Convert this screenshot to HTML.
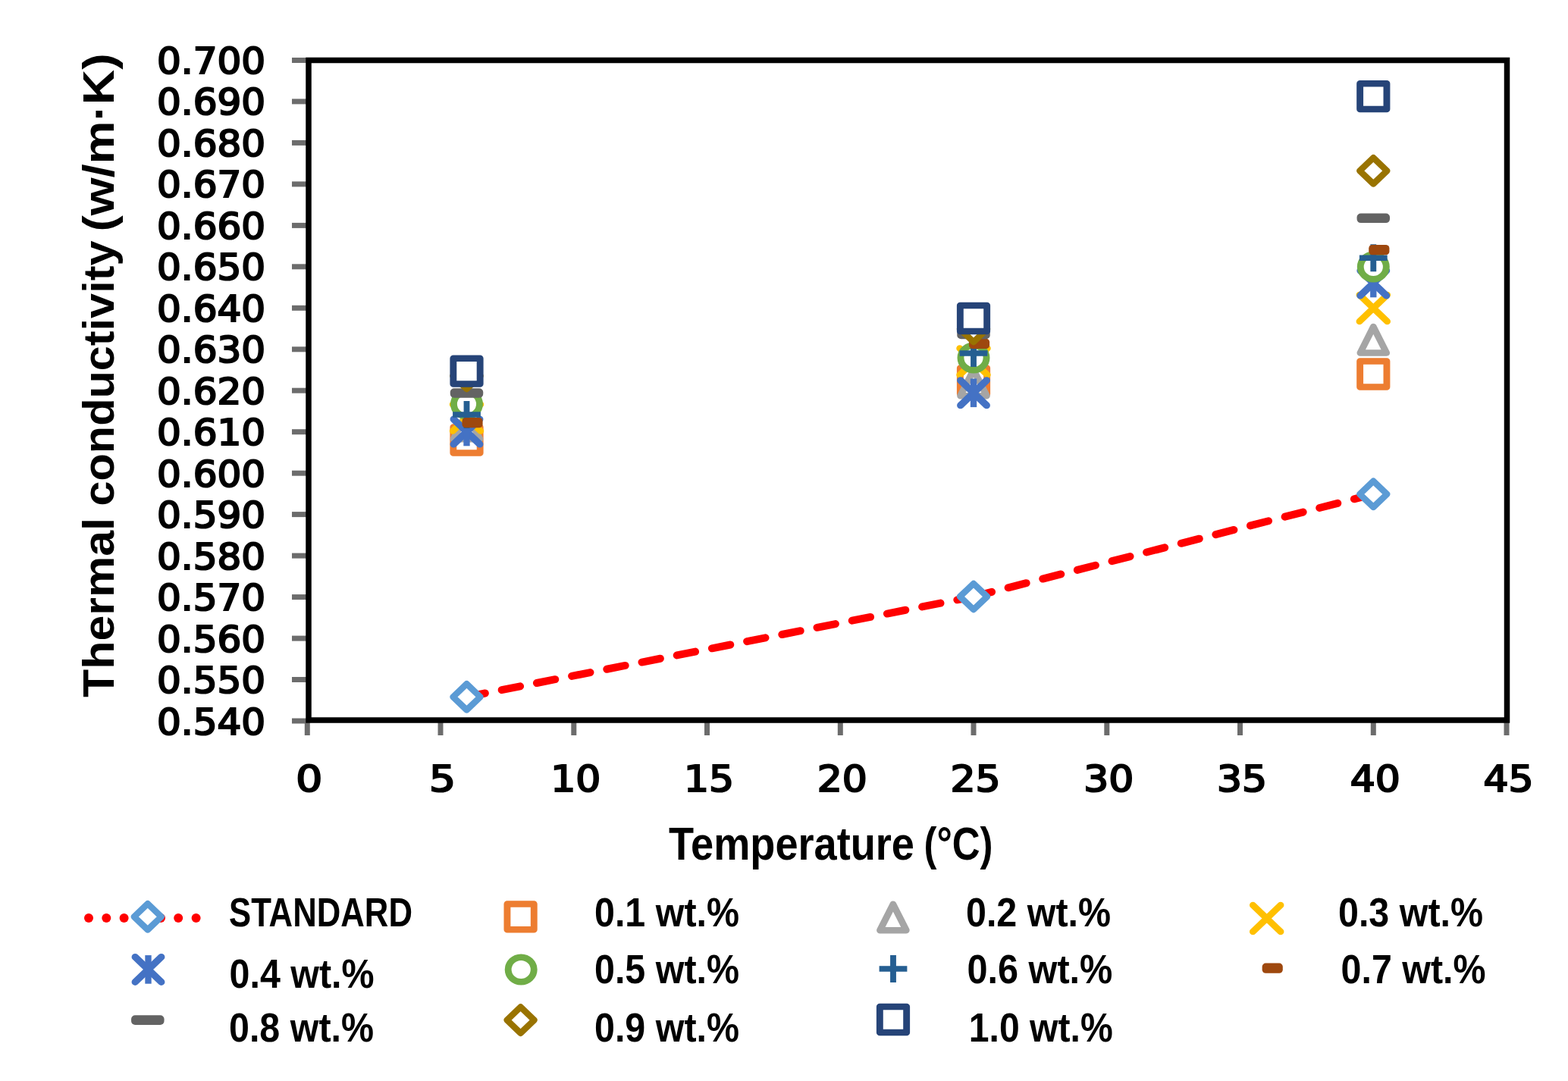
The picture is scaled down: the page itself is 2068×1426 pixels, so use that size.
<!DOCTYPE html><html><head><meta charset="utf-8"><title>Thermal conductivity vs temperature</title><style>html,body{margin:0;padding:0;background:#fff;overflow:hidden;}svg{display:block;}text{font-family:'Liberation Sans', 'DejaVu Sans', sans-serif;font-weight:bold;fill:#000;}text.t{font-family:'DejaVu Sans',sans-serif;font-weight:normal;stroke:#000;stroke-width:2.2px;}</style></head><body>
<svg width="2068" height="1426" viewBox="0 0 2068 1426">
<rect width="2068" height="1426" fill="#fff"/>
<g stroke="#6c6c6c" stroke-width="7">
<line x1="385" y1="951.0" x2="407" y2="951.0"/>
<line x1="385" y1="896.5" x2="407" y2="896.5"/>
<line x1="385" y1="842.1" x2="407" y2="842.1"/>
<line x1="385" y1="787.6" x2="407" y2="787.6"/>
<line x1="385" y1="733.1" x2="407" y2="733.1"/>
<line x1="385" y1="678.6" x2="407" y2="678.6"/>
<line x1="385" y1="624.2" x2="407" y2="624.2"/>
<line x1="385" y1="569.7" x2="407" y2="569.7"/>
<line x1="385" y1="515.2" x2="407" y2="515.2"/>
<line x1="385" y1="460.8" x2="407" y2="460.8"/>
<line x1="385" y1="406.3" x2="407" y2="406.3"/>
<line x1="385" y1="351.8" x2="407" y2="351.8"/>
<line x1="385" y1="297.4" x2="407" y2="297.4"/>
<line x1="385" y1="242.9" x2="407" y2="242.9"/>
<line x1="385" y1="188.4" x2="407" y2="188.4"/>
<line x1="385" y1="133.9" x2="407" y2="133.9"/>
<line x1="385" y1="79.5" x2="407" y2="79.5"/>
<line x1="405.3" y1="950" x2="405.3" y2="970"/>
<line x1="581.0" y1="950" x2="581.0" y2="970"/>
<line x1="756.8" y1="950" x2="756.8" y2="970"/>
<line x1="932.5" y1="950" x2="932.5" y2="970"/>
<line x1="1108.3" y1="950" x2="1108.3" y2="970"/>
<line x1="1284.0" y1="950" x2="1284.0" y2="970"/>
<line x1="1459.8" y1="950" x2="1459.8" y2="970"/>
<line x1="1635.5" y1="950" x2="1635.5" y2="970"/>
<line x1="1811.3" y1="950" x2="1811.3" y2="970"/>
<line x1="1987.0" y1="950" x2="1987.0" y2="970"/>
</g>
<rect x="407" y="79.5" width="1580.5" height="870.5" fill="none" stroke="#000" stroke-width="7.5" stroke-linejoin="miter"/>
<text class="t" x="350" y="968.5" font-size="48" text-anchor="end" textLength="143" lengthAdjust="spacingAndGlyphs">0.540</text>
<text class="t" x="350" y="914.0" font-size="48" text-anchor="end" textLength="143" lengthAdjust="spacingAndGlyphs">0.550</text>
<text class="t" x="350" y="859.6" font-size="48" text-anchor="end" textLength="143" lengthAdjust="spacingAndGlyphs">0.560</text>
<text class="t" x="350" y="805.1" font-size="48" text-anchor="end" textLength="143" lengthAdjust="spacingAndGlyphs">0.570</text>
<text class="t" x="350" y="750.6" font-size="48" text-anchor="end" textLength="143" lengthAdjust="spacingAndGlyphs">0.580</text>
<text class="t" x="350" y="696.1" font-size="48" text-anchor="end" textLength="143" lengthAdjust="spacingAndGlyphs">0.590</text>
<text class="t" x="350" y="641.7" font-size="48" text-anchor="end" textLength="143" lengthAdjust="spacingAndGlyphs">0.600</text>
<text class="t" x="350" y="587.2" font-size="48" text-anchor="end" textLength="143" lengthAdjust="spacingAndGlyphs">0.610</text>
<text class="t" x="350" y="532.7" font-size="48" text-anchor="end" textLength="143" lengthAdjust="spacingAndGlyphs">0.620</text>
<text class="t" x="350" y="478.3" font-size="48" text-anchor="end" textLength="143" lengthAdjust="spacingAndGlyphs">0.630</text>
<text class="t" x="350" y="423.8" font-size="48" text-anchor="end" textLength="143" lengthAdjust="spacingAndGlyphs">0.640</text>
<text class="t" x="350" y="369.3" font-size="48" text-anchor="end" textLength="143" lengthAdjust="spacingAndGlyphs">0.650</text>
<text class="t" x="350" y="314.9" font-size="48" text-anchor="end" textLength="143" lengthAdjust="spacingAndGlyphs">0.660</text>
<text class="t" x="350" y="260.4" font-size="48" text-anchor="end" textLength="143" lengthAdjust="spacingAndGlyphs">0.670</text>
<text class="t" x="350" y="205.9" font-size="48" text-anchor="end" textLength="143" lengthAdjust="spacingAndGlyphs">0.680</text>
<text class="t" x="350" y="151.4" font-size="48" text-anchor="end" textLength="143" lengthAdjust="spacingAndGlyphs">0.690</text>
<text class="t" x="350" y="97.0" font-size="48" text-anchor="end" textLength="143" lengthAdjust="spacingAndGlyphs">0.700</text>
<text class="t" x="407.8" y="1043.9" font-size="48" text-anchor="middle" textLength="35" lengthAdjust="spacingAndGlyphs">0</text>
<text class="t" x="583.5" y="1043.9" font-size="48" text-anchor="middle" textLength="35" lengthAdjust="spacingAndGlyphs">5</text>
<text class="t" x="759.3" y="1043.9" font-size="48" text-anchor="middle" textLength="66" lengthAdjust="spacingAndGlyphs">10</text>
<text class="t" x="935.0" y="1043.9" font-size="48" text-anchor="middle" textLength="66" lengthAdjust="spacingAndGlyphs">15</text>
<text class="t" x="1110.8" y="1043.9" font-size="48" text-anchor="middle" textLength="66" lengthAdjust="spacingAndGlyphs">20</text>
<text class="t" x="1286.5" y="1043.9" font-size="48" text-anchor="middle" textLength="66" lengthAdjust="spacingAndGlyphs">25</text>
<text class="t" x="1462.3" y="1043.9" font-size="48" text-anchor="middle" textLength="66" lengthAdjust="spacingAndGlyphs">30</text>
<text class="t" x="1638.0" y="1043.9" font-size="48" text-anchor="middle" textLength="66" lengthAdjust="spacingAndGlyphs">35</text>
<text class="t" x="1813.8" y="1043.9" font-size="48" text-anchor="middle" textLength="66" lengthAdjust="spacingAndGlyphs">40</text>
<text class="t" x="1989.5" y="1043.9" font-size="48" text-anchor="middle" textLength="66" lengthAdjust="spacingAndGlyphs">45</text>
<text x="882" y="1134.4" font-size="61" textLength="324" lengthAdjust="spacingAndGlyphs">Temperature</text>
<text x="1218.5" y="1134.4" font-size="61" textLength="91" lengthAdjust="spacingAndGlyphs">(°C)</text>
<text transform="translate(150,920) rotate(-90)" x="0" y="0" font-size="58" textLength="237" lengthAdjust="spacingAndGlyphs">Thermal</text>
<text transform="translate(150,667.5) rotate(-90)" x="0" y="0" font-size="58" textLength="350" lengthAdjust="spacingAndGlyphs">conductivity</text>
<text transform="translate(150,305.5) rotate(-90)" x="0" y="0" font-size="58" textLength="235" lengthAdjust="spacingAndGlyphs">(w/m·K)</text>
<line x1="615.5" y1="919.3" x2="1284.0" y2="787.0" stroke="#FF0000" stroke-width="10" stroke-dasharray="24.8 22.3" stroke-linecap="round"/>
<line x1="1284.0" y1="787.0" x2="1811.3" y2="651.8" stroke="#FF0000" stroke-width="10" stroke-dasharray="24.8 22.3" stroke-linecap="round"/>
<g transform="translate(615.5,919.3) scale(1.045,1)"><path d="M0 -17.2L17.2 0L0 17.2L-17.2 0Z" fill="#fff" stroke="#5B9BD5" stroke-width="8.2" stroke-linejoin="round"/></g>
<g transform="translate(1284.0,787.0) scale(1.045,1)"><path d="M0 -17.2L17.2 0L0 17.2L-17.2 0Z" fill="#fff" stroke="#5B9BD5" stroke-width="8.2" stroke-linejoin="round"/></g>
<g transform="translate(1811.3,651.8) scale(1.045,1)"><path d="M0 -17.2L17.2 0L0 17.2L-17.2 0Z" fill="#fff" stroke="#5B9BD5" stroke-width="8.2" stroke-linejoin="round"/></g>
<g transform="translate(615.5,580.5) scale(1.045,1)"><rect x="-16.9" y="-16.9" width="33.8" height="33.8" fill="#fff" stroke="#ED7D31" stroke-width="8.5" stroke-linejoin="round"/></g>
<g transform="translate(1284.0,502.5) scale(1.045,1)"><rect x="-16.9" y="-16.9" width="33.8" height="33.8" fill="#fff" stroke="#ED7D31" stroke-width="8.5" stroke-linejoin="round"/></g>
<g transform="translate(1811.3,493.5) scale(1.045,1)"><rect x="-16.9" y="-16.9" width="33.8" height="33.8" fill="#fff" stroke="#ED7D31" stroke-width="8.5" stroke-linejoin="round"/></g>
<g transform="translate(615.5,562.0) scale(1.045,1)"><path d="M0 -17.2L16.6 17.2L-16.6 17.2Z" fill="#fff" stroke="#A5A5A5" stroke-width="8.5" stroke-linejoin="round"/></g>
<g transform="translate(1284.0,505.0) scale(1.045,1)"><path d="M0 -17.2L16.6 17.2L-16.6 17.2Z" fill="#fff" stroke="#A5A5A5" stroke-width="8.5" stroke-linejoin="round"/></g>
<g transform="translate(1811.3,448.3) scale(1.045,1)"><path d="M0 -17.2L16.6 17.2L-16.6 17.2Z" fill="#fff" stroke="#A5A5A5" stroke-width="8.5" stroke-linejoin="round"/></g>
<g transform="translate(615.5,551.0) scale(1.045,1)"><path d="M-17.5 -17.5L17.5 17.5M17.5 -17.5L-17.5 17.5" stroke="#FFC000" stroke-width="8.5" stroke-linecap="round"/></g>
<g transform="translate(1284.0,477.0) scale(1.045,1)"><path d="M-17.5 -17.5L17.5 17.5M17.5 -17.5L-17.5 17.5" stroke="#FFC000" stroke-width="8.5" stroke-linecap="round"/></g>
<g transform="translate(1811.3,406.5) scale(1.045,1)"><path d="M-17.5 -17.5L17.5 17.5M17.5 -17.5L-17.5 17.5" stroke="#FFC000" stroke-width="8.5" stroke-linecap="round"/></g>
<g transform="translate(615.5,569.5) scale(1.045,1)"><path d="M-16.5 -16.5L16.5 16.5M16.5 -16.5L-16.5 16.5" stroke="#4472C4" stroke-width="9" stroke-linecap="round"/><path d="M0 -18.8L0 18.8" stroke="#4472C4" stroke-width="8"/></g>
<g transform="translate(1284.0,518.3) scale(1.045,1)"><path d="M-16.5 -16.5L16.5 16.5M16.5 -16.5L-16.5 16.5" stroke="#4472C4" stroke-width="9" stroke-linecap="round"/><path d="M0 -18.8L0 18.8" stroke="#4472C4" stroke-width="8"/></g>
<g transform="translate(1811.3,373.5) scale(1.045,1)"><path d="M-16.5 -16.5L16.5 16.5M16.5 -16.5L-16.5 16.5" stroke="#4472C4" stroke-width="9" stroke-linecap="round"/><path d="M0 -18.8L0 18.8" stroke="#4472C4" stroke-width="8"/></g>
<g transform="translate(615.5,533.0) scale(1.045,1)"><circle r="16.3" fill="#fff" stroke="#70AD47" stroke-width="8.5"/></g>
<g transform="translate(1284.0,472.0) scale(1.045,1)"><circle r="16.3" fill="#fff" stroke="#70AD47" stroke-width="8.5"/></g>
<g transform="translate(1811.3,352.0) scale(1.045,1)"><circle r="16.3" fill="#fff" stroke="#70AD47" stroke-width="8.5"/></g>
<g transform="translate(615.5,547.0) scale(1.045,1)"><path d="M-17.6 0L17.6 0M0 -18L0 18" stroke="#255E91" stroke-width="7.5"/></g>
<g transform="translate(1284.0,466.0) scale(1.045,1)"><path d="M-17.6 0L17.6 0M0 -18L0 18" stroke="#255E91" stroke-width="7.5"/></g>
<g transform="translate(1811.3,340.3) scale(1.045,1)"><path d="M-17.6 0L17.6 0M0 -18L0 18" stroke="#255E91" stroke-width="7.5"/></g>
<g transform="translate(615.5,557.6) scale(1.045,1)"><rect x="-5.8" y="-6.6" width="26" height="13.2" rx="4.5" fill="#9E480E"/></g>
<g transform="translate(1284.0,453.4) scale(1.045,1)"><rect x="-5.8" y="-6.6" width="26" height="13.2" rx="4.5" fill="#9E480E"/></g>
<g transform="translate(1811.3,329.6) scale(1.045,1)"><rect x="-5.8" y="-6.6" width="26" height="13.2" rx="4.5" fill="#9E480E"/></g>
<g transform="translate(615.5,518.5) scale(1.045,1)"><rect x="-20.8" y="-6.3" width="41.6" height="12.6" rx="5" fill="#636363"/></g>
<g transform="translate(1284.0,441.0) scale(1.045,1)"><rect x="-20.8" y="-6.3" width="41.6" height="12.6" rx="5" fill="#636363"/></g>
<g transform="translate(1811.3,287.8) scale(1.045,1)"><rect x="-20.8" y="-6.3" width="41.6" height="12.6" rx="5" fill="#636363"/></g>
<g transform="translate(615.5,496.0) scale(1.045,1)"><path d="M0 -17.2L17.2 0L0 17.2L-17.2 0Z" fill="#fff" stroke="#997300" stroke-width="8.2" stroke-linejoin="round"/></g>
<g transform="translate(1284.0,434.0) scale(1.045,1)"><path d="M0 -17.2L17.2 0L0 17.2L-17.2 0Z" fill="#fff" stroke="#997300" stroke-width="8.2" stroke-linejoin="round"/></g>
<g transform="translate(1811.3,225.3) scale(1.045,1)"><path d="M0 -17.2L17.2 0L0 17.2L-17.2 0Z" fill="#fff" stroke="#997300" stroke-width="8.2" stroke-linejoin="round"/></g>
<g transform="translate(615.5,489.6) scale(1.045,1)"><rect x="-16.9" y="-16.9" width="33.8" height="33.8" fill="#fff" stroke="#264478" stroke-width="8.5" stroke-linejoin="round"/></g>
<g transform="translate(1284.0,420.0) scale(1.045,1)"><rect x="-16.9" y="-16.9" width="33.8" height="33.8" fill="#fff" stroke="#264478" stroke-width="8.5" stroke-linejoin="round"/></g>
<g transform="translate(1811.3,127.2) scale(1.045,1)"><rect x="-16.9" y="-16.9" width="33.8" height="33.8" fill="#fff" stroke="#264478" stroke-width="8.5" stroke-linejoin="round"/></g>
<circle cx="117" cy="1211" r="6" fill="#FF0000"/>
<circle cx="140.3" cy="1211" r="6" fill="#FF0000"/>
<circle cx="163.6" cy="1211" r="6" fill="#FF0000"/>
<circle cx="186.9" cy="1211" r="6" fill="#FF0000"/>
<circle cx="212" cy="1211" r="6" fill="#FF0000"/>
<circle cx="235.2" cy="1211" r="6" fill="#FF0000"/>
<circle cx="258.6" cy="1211" r="6" fill="#FF0000"/>
<g transform="translate(194.8,1209.3) scale(1.045,1)"><path d="M0 -17.2L17.2 0L0 17.2L-17.2 0Z" fill="#fff" stroke="#5B9BD5" stroke-width="8.2" stroke-linejoin="round"/></g>
<text x="302" y="1221.8" font-size="53" textLength="242" lengthAdjust="spacingAndGlyphs">STANDARD</text>
<g transform="translate(686.6,1209.4) scale(1.045,1)"><rect x="-16.9" y="-16.9" width="33.8" height="33.8" fill="#fff" stroke="#ED7D31" stroke-width="8.5" stroke-linejoin="round"/></g>
<text x="784" y="1221.8" font-size="53" textLength="191" lengthAdjust="spacingAndGlyphs">0.1 wt.%</text>
<g transform="translate(1177.9,1210.0) scale(1.045,1)"><path d="M0 -17.2L16.6 17.2L-16.6 17.2Z" fill="#fff" stroke="#A5A5A5" stroke-width="8.5" stroke-linejoin="round"/></g>
<text x="1274" y="1221.8" font-size="53" textLength="191" lengthAdjust="spacingAndGlyphs">0.2 wt.%</text>
<g transform="translate(1670.7,1211.5) scale(1.045,1)"><path d="M-17.5 -17.5L17.5 17.5M17.5 -17.5L-17.5 17.5" stroke="#FFC000" stroke-width="8.5" stroke-linecap="round"/></g>
<text x="1765" y="1222.4" font-size="53" textLength="191" lengthAdjust="spacingAndGlyphs">0.3 wt.%</text>
<g transform="translate(195.5,1278.9) scale(1.045,1)"><path d="M-16.5 -16.5L16.5 16.5M16.5 -16.5L-16.5 16.5" stroke="#4472C4" stroke-width="9" stroke-linecap="round"/><path d="M0 -18.8L0 18.8" stroke="#4472C4" stroke-width="8"/></g>
<text x="302.6" y="1303.2" font-size="53" textLength="191" lengthAdjust="spacingAndGlyphs">0.4 wt.%</text>
<g transform="translate(687.2,1279.0) scale(1.045,1)"><circle r="16.3" fill="#fff" stroke="#70AD47" stroke-width="8.5"/></g>
<text x="784" y="1296.8" font-size="53" textLength="191" lengthAdjust="spacingAndGlyphs">0.5 wt.%</text>
<g transform="translate(1178.0,1278.0) scale(1.045,1)"><path d="M-17.6 0L17.6 0M0 -18L0 18" stroke="#255E91" stroke-width="7.5"/></g>
<text x="1275.4" y="1297" font-size="53" textLength="192" lengthAdjust="spacingAndGlyphs">0.6 wt.%</text>
<g transform="translate(1670.7,1277.2) scale(1.045,1)"><rect x="-5.8" y="-6.6" width="26" height="13.2" rx="4.5" fill="#9E480E"/></g>
<text x="1768.6" y="1297.2" font-size="53" textLength="191" lengthAdjust="spacingAndGlyphs">0.7 wt.%</text>
<g transform="translate(194.8,1345.6) scale(1.045,1)"><rect x="-20.8" y="-6.3" width="41.6" height="12.6" rx="5" fill="#636363"/></g>
<text x="302" y="1373.6" font-size="53" textLength="191" lengthAdjust="spacingAndGlyphs">0.8 wt.%</text>
<g transform="translate(686.6,1345.6) scale(1.045,1)"><path d="M0 -17.2L17.2 0L0 17.2L-17.2 0Z" fill="#fff" stroke="#997300" stroke-width="8.2" stroke-linejoin="round"/></g>
<text x="784" y="1373.6" font-size="53" textLength="191" lengthAdjust="spacingAndGlyphs">0.9 wt.%</text>
<g transform="translate(1178.0,1345.0) scale(1.045,1)"><rect x="-16.9" y="-16.9" width="33.8" height="33.8" fill="#fff" stroke="#264478" stroke-width="8.5" stroke-linejoin="round"/></g>
<text x="1277.8" y="1373.6" font-size="53" textLength="190" lengthAdjust="spacingAndGlyphs">1.0 wt.%</text>
</svg></body></html>
